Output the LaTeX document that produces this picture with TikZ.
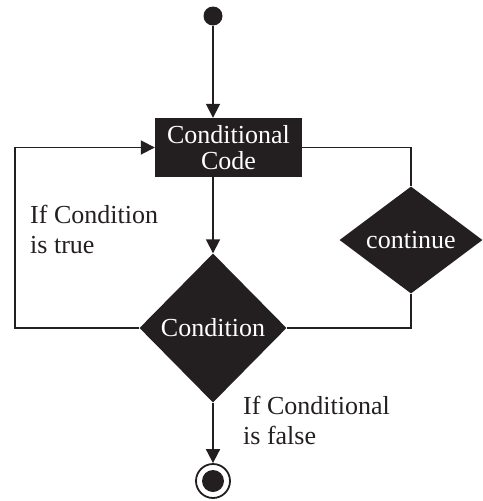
\documentclass[tikz,border=0pt]{standalone}
\usepackage{fontspec}
\setmainfont{Liberation Serif}
\usepackage{xcolor}
\usetikzlibrary{shapes.geometric,arrows.meta,positioning}
\definecolor{ink}{HTML}{231F20}

\tikzset{
  flow/.style={draw=ink,line width=1.8pt},
  flowarrow/.style={flow,-{Triangle[length=14pt,width=14pt]}},
  process/.style={rectangle,fill=ink,text=white,align=center,inner sep=0pt,
    minimum width=147pt,minimum height=59pt,font=\fontsize{26}{27}\selectfont},
  decision/.style={diamond,fill=ink,text=white,inner sep=0pt,
    font=\fontsize{26}{27}\selectfont},
  label/.style={align=left,anchor=north west,inner sep=0pt,text=ink,
    font=\fontsize{26}{30}\selectfont},
}

\begin{document}
\begin{tikzpicture}[x=1pt,y=1pt,yscale=-1]
\path (0,0) rectangle (480,501); %set diagram size

%Initial node
\node[circle,fill=ink,minimum size=19pt,inner sep=0pt] (start) at (213,16) {};
%Flowchart: Process
\node[process] (code) at (228.5,147.5) {Conditional\\[-1pt]Code};
%Flowchart: Decision
\node[decision,minimum width=147pt,minimum height=149pt] (cond) at (213,328) {Condition};
%Flowchart: Decision
\node[decision,minimum width=143pt,minimum height=89pt] (cont) at (411,240) {continue};
%Final node
\node[circle,draw=ink,line width=1.8pt,fill=white,minimum size=34pt,inner sep=0pt] (end) at (213,481) {};
\node[circle,fill=ink,minimum size=22pt,inner sep=0pt] at (end) {};
\coordinate (loop) at (15,328);

% Connectors
\draw[flowarrow] (start) -- (start |- code.north);
\draw[flowarrow] (cond.north |- code.south) -- (cond.north);
\draw[flowarrow] (cond.west) -- (loop) |- (code.west);
\draw[flow] (code.east) -| (cont.north);
\draw[flow] (cont.south) |- (cond.east);
\draw[flowarrow] (cond.south) -- (end.north);

% Text Node
\node[label] at (30,205) {If Condition\\is true};
\node[label] at (243,396) {If Conditional\\is false};
\end{tikzpicture}
\end{document}
